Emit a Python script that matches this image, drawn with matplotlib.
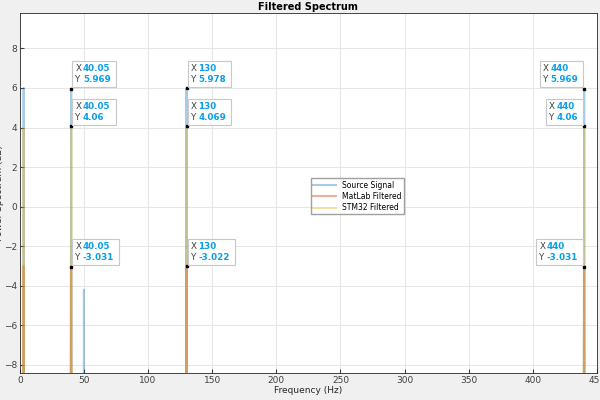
import matplotlib
matplotlib.use("Agg")
import matplotlib.pyplot as plt

base = -30
# Source signal: (freq, value) points
src_f = [0, 2.4, 3.0, 3.6, 39.4, 40.05, 40.7, 49.4, 50.0, 50.6, 129.4, 130.0, 130.6, 439.4, 440.0, 440.6, 450]
src_v = [base, base, 6.0, base, base, 5.969, base, base, -4.2, base, base, 5.978, base, base, 5.969, base, base]
# MatLab filtered
mat_f = [0, 2.0, 3.0, 4.0, 39.0, 40.05, 41.1, 129.0, 130.0, 131.0, 439.0, 440.0, 441.0, 450]
mat_v = [base, base, -3.0, base, base, -3.031, base, base, -3.022, base, base, -3.031, base, base]
# STM32 filtered
stm_f = [0, 2.4, 3.0, 3.6, 39.4, 40.05, 40.7, 129.4, 130.0, 130.6, 439.4, 440.0, 440.6, 450]
stm_v = [base, base, 4.0, base, base, 4.06, base, base, 4.069, base, base, 4.06, base, base]

tips = [(40.05, 5.969, "40.05", "5.969", "r"), (40.05, 4.06, "40.05", "4.06", "r"),
        (40.05, -3.031, "40.05", "-3.031", "r"),
        (130, 5.978, "130", "5.978", "r"), (130, 4.069, "130", "4.069", "r"),
        (130, -3.022, "130", "-3.022", "r"),
        (440, 5.969, "440", "5.969", "l"), (440, 4.06, "440", "4.06", "l"),
        (440, -3.031, "440", "-3.031", "l")]

fig = plt.figure(figsize=(6, 4), dpi=100, facecolor="#f0f0f0")
ax = fig.add_axes([0.033, 0.068, 0.962, 0.9])
ax.plot(src_f, src_v, color="#0072BD", alpha=0.35, lw=1.5, label="Source Signal")
ax.plot(mat_f, mat_v, color="#D95319", alpha=0.45, lw=1.5, label="MatLab Filtered")
ax.plot(stm_f, stm_v, color="#EDB120", alpha=0.4, lw=1.5, label="STM32 Filtered")

fs = 6.3
for x, y, xs, ys, side in tips:
    ax.plot([x], [y], "s", color="k", ms=2)
    if side == "r":
        off, ha = (3, 3), "left"
    else:
        off, ha = (-3, 3), "right"
    full = f"X {xs}\nY {ys}"
    ax.annotate(full, (x, y), xytext=off, textcoords="offset points", ha=ha, va="bottom",
                fontsize=fs, color=(0, 0, 0, 0), fontweight="bold", linespacing=1.3,
                bbox=dict(boxstyle="square,pad=0.35", fc="white", ec="#c8c8c8", lw=0.8))
    t = ax.annotate(full, (x, y), xytext=off, textcoords="offset points", ha=ha, va="bottom",
                    fontsize=fs, color=(0, 0, 0, 0), fontweight="bold", linespacing=1.3)
    fig.canvas.draw()
    bb = t.get_window_extent()
    t.remove()
    left_pt = (bb.x0 - ax.transData.transform((x, y))[0]) * 72 / fig.dpi
    ax.annotate("X\nY", (x, y), xytext=(left_pt, off[1]), textcoords="offset points",
                ha="left", va="bottom", fontsize=fs, color="#404040", linespacing=1.3)
    ax.annotate(f"{xs}\n{ys}", (x, y), xytext=(left_pt + 5.5, off[1]), textcoords="offset points",
                ha="left", va="bottom", fontsize=fs, color="#0a9ee8", fontweight="bold",
                linespacing=1.3)

ax.set_xlim(0, 450)
ax.set_ylim(-8.4, 9.8)
ax.set_xticks(range(0, 451, 50))
ax.set_yticks(range(-8, 9, 2))
ax.grid(True, color="#e6e6e6", lw=0.7)
ax.tick_params(direction="in", labelsize=6.5, colors="#404040", length=3, pad=2)
for s in ax.spines.values():
    s.set_color("#262626")
    s.set_linewidth(0.6)
ax.set_xlabel("Frequency (Hz)", fontsize=6.5, color="#262626", labelpad=1)
ax.set_ylabel("Power Spectrum (dB)", fontsize=6.5, color="#262626", labelpad=0)
ax.set_title("Filtered Spectrum", fontsize=7, fontweight="bold", pad=2)
ax.legend(loc="center", bbox_to_anchor=(0.585, 0.49), fontsize=5.5, frameon=True,
          fancybox=False, edgecolor="#888888", handlelength=3, borderpad=0.3, labelspacing=0.3)
fig.savefig("out.png", dpi=100, facecolor=fig.get_facecolor())
